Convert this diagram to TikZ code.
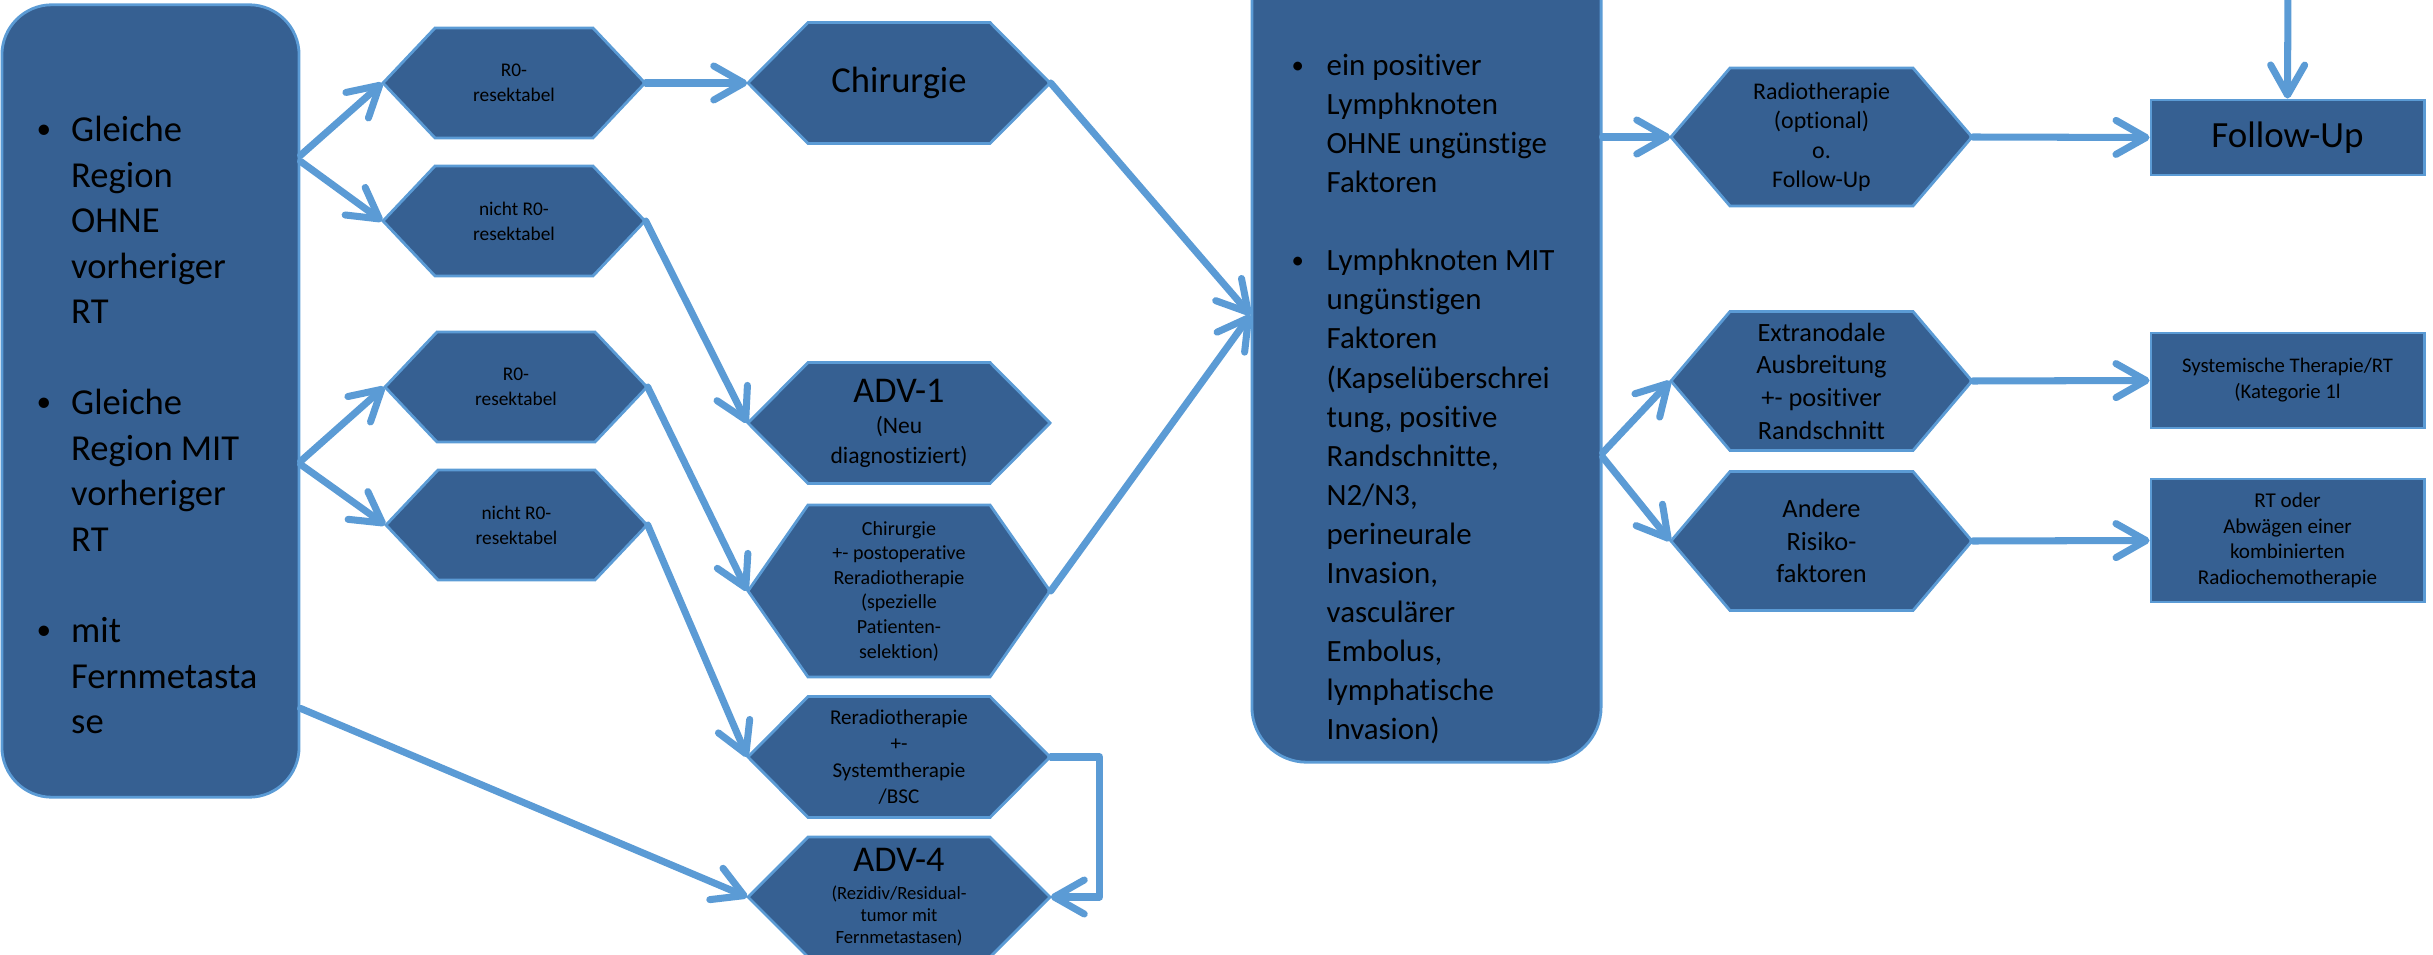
\documentclass[tikz,border=0pt]{standalone}
\usepackage{fontspec}
\usepackage{graphicx}
\setmainfont{Carlito}[Ligatures=NoCommon]
\usetikzlibrary{arrows.meta,calc}
\definecolor{boxfill}{RGB}{54,96,146}
\definecolor{lineblue}{RGB}{91,155,213}
\newcommand{\fsz}[2]{\fontsize{#1pt}{#2pt}\selectfont}
\newcommand{\bulx}[1]{\makebox[#1][l]{\raisebox{0.08em}{\scalebox{0.8}{•}}}}
\newcommand{\hexa}[8]{%
  \filldraw[hexshape] (#2-#4/2,#3) -- (#2-#4/2+#6,#3-#5/2) -- (#2+#4/2-#6,#3-#5/2) -- (#2+#4/2,#3) -- (#2+#4/2-#6,#3+#5/2) -- (#2-#4/2+#6,#3+#5/2) -- cycle;
  \node[hextext, font={#7}, minimum width={#4*0.01cm}, minimum height={#5*0.01cm}] (#1) at (#2,#3) {#8};
}
\tikzset{
  box/.style={draw=lineblue, line width=0.8pt, fill=boxfill, inner sep=0pt, text=black, align=center},
  hexshape/.style={draw=lineblue, line width=0.8pt, fill=boxfill},
  hextext/.style={inner sep=0pt, align=center, text=black},
  listtext/.style={inner sep=0pt, align=left, text=black, anchor=north west},
  conn/.style={draw=lineblue, line width=2pt, line cap=round, line join=round,
    -{Straight Barb[length=0.3cm,width=0.34cm,round]}},
}
\begin{document}
\begin{tikzpicture}[x=0.01cm, y=-0.01cm]
\path[use as bounding box] (0,0) rectangle (2433,955);
\clip (0,0) rectangle (2433,955);

% big boxes
\node[box, rounded corners=0.5cm, minimum width=2.97cm, minimum height=7.92cm] (left) at (150.5,401) {};
\node[listtext, font=\fsz{10.4}{12.95}] (lefttext) at (36,109) {%
\strut\bulx{0.345cm}Gleiche\\
\strut\hspace*{0.345cm}Region\\
\strut\hspace*{0.345cm}OHNE\\
\strut\hspace*{0.345cm}vorheriger\\
\strut\hspace*{0.345cm}RT\\
\strut\\
\strut\bulx{0.345cm}Gleiche\\
\strut\hspace*{0.345cm}Region MIT\\
\strut\hspace*{0.345cm}vorheriger\\
\strut\hspace*{0.345cm}RT\\
\strut\\
\strut\bulx{0.345cm}mit\\
\strut\hspace*{0.345cm}Fernmetasta\\
\strut\hspace*{0.345cm}se};

\node[box, rounded corners=0.55cm, minimum width=3.49cm, minimum height=8.62cm] (mid) at (1426.5,331) {};
\node[listtext, font=\fsz{8.8}{11.1}] (midtext) at (1291,47.7) {%
\strut\bulx{0.35cm}ein positiver\\
\strut\hspace*{0.35cm}Lymphknoten\\
\strut\hspace*{0.35cm}OHNE ungünstige\\
\strut\hspace*{0.35cm}Faktoren\\
\strut\\
\strut\bulx{0.35cm}Lymphknoten MIT\\
\strut\hspace*{0.35cm}ungünstigen\\
\strut\hspace*{0.35cm}Faktoren\\
\strut\hspace*{0.35cm}(Kapselüberschrei\\
\strut\hspace*{0.35cm}tung, positive\\
\strut\hspace*{0.35cm}Randschnitte,\\
\strut\hspace*{0.35cm}N2/N3,\\
\strut\hspace*{0.35cm}perineurale\\
\strut\hspace*{0.35cm}Invasion,\\
\strut\hspace*{0.35cm}vasculärer\\
\strut\hspace*{0.35cm}Embolus,\\
\strut\hspace*{0.35cm}lymphatische\\
\strut\hspace*{0.35cm}Invasion)};

% right boxes
\node[box, font=\fsz{10.5}{12.6}, minimum width=2.73cm, minimum height=0.75cm] (fu) at (2287.5,137.5) {Follow-Up};
\node[box, font=\fsz{5.9}{7.4}, minimum width=2.73cm, minimum height=0.95cm] (syst) at (2287.5,380.5) {Systemische Therapie/RT\\(Kategorie 1l};
\node[box, font=\fsz{6}{7.3}, minimum width=2.73cm, minimum height=1.23cm] (rtoder) at (2287.5,540.5) {RT oder\\Abwägen einer\\kombinierten\\Radiochemotherapie};

% hexagons
\hexa{r0a}{514}{83}{262}{110}{52}{\fsz{5.5}{7.1}}{R0-\\resektabel}
\hexa{nra}{514}{221}{262}{110}{52}{\fsz{5.5}{7.1}}{nicht R0-\\resektabel}
\hexa{r0b}{516}{387}{262}{110}{52}{\fsz{5.5}{7.1}}{R0-\\resektabel}
\hexa{nrb}{516.5}{525}{261}{110}{52}{\fsz{5.5}{7.1}}{nicht R0-\\resektabel}
\hexa{chir}{899}{83}{302}{121}{60}{\fsz{10.4}{12.5}}{Chirurgie}
\hexa{adv1}{899}{423}{302}{121}{60}{\fsz{6.7}{8.5}}{{\fontsize{10.3pt}{8.5pt}\selectfont ADV-1}\\[0.3pt](Neu\\diagnostiziert)}
\hexa{chirpo}{899}{591}{302}{172}{60}{\fsz{5.7}{7}}{Chirurgie\\+- postoperative\\Reradiotherapie\\(spezielle\\Patienten-\\selektion)}
\hexa{rerad}{899}{757}{302}{121}{60}{\fsz{6}{7.5}}{Reradiotherapie\\+-\\Systemtherapie\\/BSC}
\hexa{adv4}{899}{897}{302}{120}{60}{\fsz{5.3}{6.3}}{{\fontsize{10.3pt}{6.3pt}\selectfont ADV-4}\\[1.7pt](Rezidiv/Residual-\\tumor mit\\Fernmetastasen)}
\hexa{radio}{1821.5}{137}{301}{138}{59}{\fsz{6.8}{8.4}}{Radiotherapie\\(optional)\\o.\\Follow-Up}
\hexa{extra}{1821.5}{381}{301}{139}{59}{\fsz{7.5}{9.3}}{Extranodale\\Ausbreitung\\+- positiver\\Randschnitt}
\hexa{andere}{1821.5}{541}{301}{139}{59}{\fsz{7.5}{9.3}}{Andere\\Risiko-\\faktoren}

% connectors
\draw[conn] ($(left.north east)+(0,152)$) -- (r0a.west);
\draw[conn] ($(left.north east)+(0,158)$) -- (nra.west);
\draw[conn] ($(left.north east)+(0,458)$) -- (r0b.west);
\draw[conn] ($(left.north east)+(0,461)$) -- (nrb.west);
\draw[conn] ($(left.north east)+(0,705)$) -- (adv4.west);
\draw[conn] (r0a.east) -- (chir.west);
\draw[conn] (nra.east) -- (adv1.west);
\draw[conn] (r0b.east) -- (chirpo.west);
\draw[conn] (nrb.east) -- (rerad.west);
\draw[conn] (chir.east) -- ($(mid.west)+(0,-16)$);
\draw[conn] (chirpo.east) -- ($(mid.west)+(0,-16)$);
\draw[conn] (rerad.east) -- ++(49,0) |- (adv4.east);
\draw[conn] ($(mid.east)+(0,-194)$) -- (radio.west);
\draw[conn] ($(mid.east)+(0,122)$) -- (extra.west);
\draw[conn] ($(mid.east)+(0,126)$) -- (andere.west);
\draw[conn] (radio.east) -- (fu.west);
\draw[conn] (extra.east) -- (syst.west);
\draw[conn] (andere.east) -- (rtoder.west);
\coordinate (futop) at (2288,-20);
\draw[conn] (futop) -- (fu.north);
\end{tikzpicture}
\end{document}
